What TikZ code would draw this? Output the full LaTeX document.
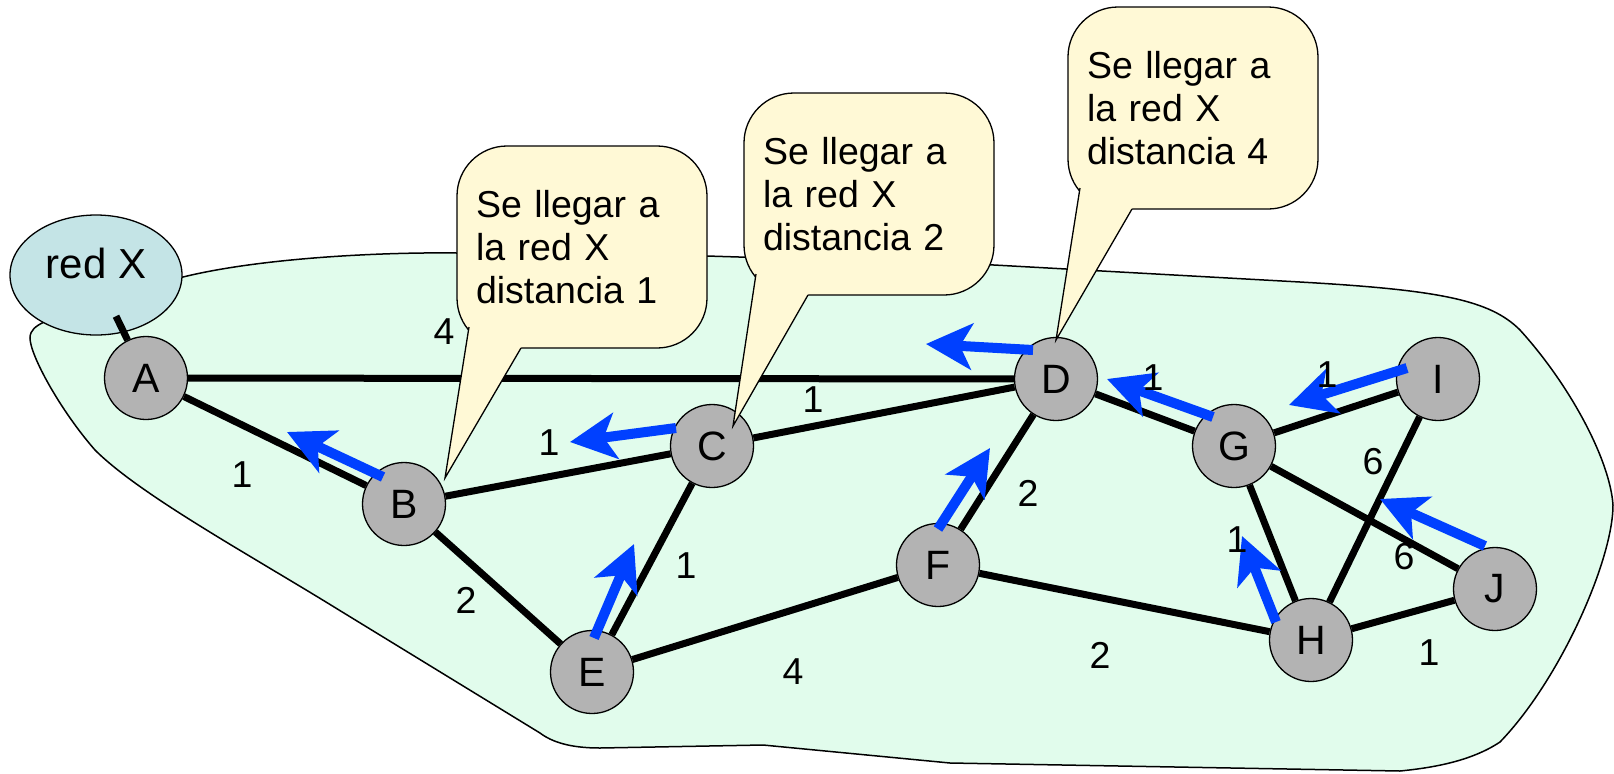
\documentclass[tikz,border=0pt]{standalone}
\usepackage{fontspec}
\setmainfont{Liberation Sans}
\usetikzlibrary{shapes, calc, arrows.meta}

\begin{document}
\begin{tikzpicture}[x=0.5pt, y={(0pt,-0.5pt)},
	every node/.style={font=\fontsize{18.75}{21.5}\selectfont},
	nodo/.style={circle, draw=black, line width=0.65pt, fill=mygray, minimum size=41.5pt, inner sep=0pt, font=\fontsize{20.5}{24}\selectfont},
	enlace/.style={line width=3.5pt},
	ruta/.style={draw=myblue, line width=5pt, -{Stealth[length=23pt,width=23pt,inset=6pt]}},
	globo/.style={rectangle, rounded corners=25pt, draw=black, line width=0.65pt, fill=mycream, minimum width=125pt, minimum height=101pt, text width=106pt, inner xsep=9.5pt, align=left},
	cola/.style={draw=black, line width=0.65pt}]
	\definecolor{mygray}{RGB}{179,179,179}
	\definecolor{myblue}{RGB}{0,64,255}
	\definecolor{mycream}{RGB}{255,249,214}
	\definecolor{mymint}{RGB}{225,252,236}
	\definecolor{mysky}{RGB}{196,228,230}
	\useasboundingbox (0,0) rectangle (1614,773);
	% zona
	\draw[fill=mymint, line width=0.75pt] (183,277) .. controls (260,258) and (380,252) .. (457,253) -- (707,256) -- (994,265) -- (1300,282) .. controls (1440,290) and (1490,300) .. (1520,330) .. controls (1570,385) and (1610,460) .. (1613,505) .. controls (1613,560) and (1560,680) .. (1500,742) .. controls (1470,762) and (1430,768) .. (1400,771) -- (950,763) -- (763,745) -- (600,748) .. controls (570,748) and (552,742) .. (540,733) -- (339,610) .. controls (250,555) and (140,495) .. (95,450) .. controls (60,410) and (30,355) .. (30,338) .. controls (30,330) and (36,326) .. (44,322) -- (96,300) -- cycle;
	\node (rx) at (96,275) [ellipse, draw=black, line width=0.65pt, fill=mysky, minimum width=86pt, minimum height=60pt, inner sep=0pt, text depth=12pt, font=\fontsize{21}{24}\selectfont] {red X};
	% routers
	\node (A) at (146,378) [nodo] {A};
	\node (B) at (404,504) [nodo] {B};
	\node (C) at (712,446) [nodo] {C};
	\node (D) at (1056,379) [nodo] {D};
	\node (E) at (592,672) [nodo] {E};
	\node (F) at (938,565) [nodo] {F};
	\node (G) at (1234,446) [nodo] {G};
	\node (H) at (1311,640) [nodo] {H};
	\node (I) at (1438,379) [nodo] {I};
	\node (J) at (1495,589) [nodo] {J};
	\draw[enlace] ($(rx)!0.4!(A)$) -- (A);
	\draw[enlace] (A) -- (B) (A) -- (D) (B) -- (C) (B) -- (E) (C) -- (D) (C) -- (E);
	\draw[enlace] (D) -- (F) (D) -- (G) (E) -- (F) (F) -- (H) (G) -- (I) (G) -- (H);
	\draw[enlace] (G) -- (J) (I) -- (H) (H) -- (J);
	% globos
	\node (g1) at (582,247) [globo] {Se llegar a\\la red X\\distancia 1};
	\node (g2) at (869,194) [globo] {Se llegar a\\la red X\\distancia 2};
	\node (g3) at (1193,108) [globo] {Se llegar a\\la red X\\distancia 4};
	\fill[mycream] ($(B)+(41,-26)$) -- ($(g1)+(-113,80)$) -- ($(g1)+(-61,55)$) -- ($(g1)+(-61,101)$) -- cycle;
	\draw[cola] ($(g1)+(-113,80)$) -- ($(B)+(41,-26)$) -- ($(g1)+(-61,101)$);
	\fill[mycream] ($(C)+(21,-20)$) -- ($(g2)+(-113,80)$) -- ($(g2)+(-61,55)$) -- ($(g2)+(-61,101)$) -- cycle;
	\draw[cola] ($(g2)+(-113,80)$) -- ($(C)+(21,-20)$) -- ($(g2)+(-61,101)$);
	\fill[mycream] ($(D)+(0,-39)$) -- ($(g3)+(-113,80)$) -- ($(g3)+(-61,55)$) -- ($(g3)+(-61,101)$) -- cycle;
	\draw[cola] ($(g3)+(-113,80)$) -- ($(D)+(0,-39)$) -- ($(g3)+(-61,101)$);
	% siguiente salto
	\draw[ruta] ($(B)+(-21,-27)$) -- ($(B)+(-117,-72)$);
	\draw[ruta] ($(C)+(-36,-18)$) -- ($(C)+(-142,-4)$);
	\draw[ruta] ($(D)+(-23,-29)$) -- ($(D)+(-130,-35)$);
	\draw[ruta] ($(E)+(2,-34)$) -- ($(E)+(42,-128)$);
	\draw[ruta] ($(F)+(0,-36)$) -- ($(F)+(52,-117)$);
	\draw[ruta] ($(G)+(-21,-29)$) -- ($(G)+(-127,-67)$);
	\draw[ruta] ($(H)+(-35,-18)$) -- ($(H)+(-69,-104)$);
	\draw[ruta] ($(I)+(-31,-11)$) -- ($(I)+(-149,26)$);
	\draw[ruta] ($(J)+(-10,-43)$) -- ($(J)+(-115,-90)$);
	% costos
	\node (cAD) at (444,332) {4};
	\node (cAB) at (242,475) {1};
	\node (cBC) at (549,443) {1};
	\node (cCD) at (813,400) {1};
	\node (cBE) at (466,600) {2};
	\node (cCE) at (686,566) {1};
	\node (cEF) at (793,672) {4};
	\node (cDF) at (1028,493) {2};
	\node (cDG) at (1153,378) {1};
	\node (cGI) at (1327,375) {1};
	\node (cGH) at (1237,540) {1};
	\node (cIH) at (1373,462) {6};
	\node (cGJ) at (1404,557) {6};
	\node (cFH) at (1100,655) {2};
	\node (cHJ) at (1429,653) {1};
\end{tikzpicture}
\end{document}
